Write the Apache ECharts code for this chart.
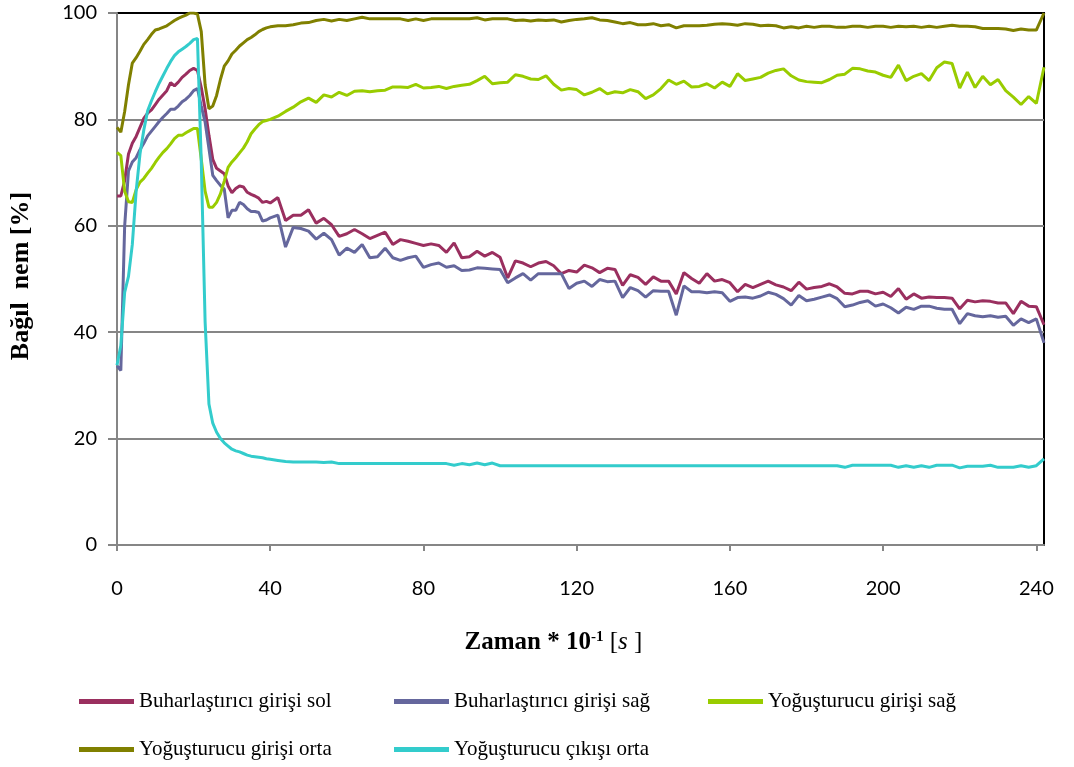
<!DOCTYPE html>
<html>
<head>
<meta charset="utf-8">
<title>Bağıl nem</title>
<script src="https://cdn.jsdelivr.net/npm/echarts@6.0.0/dist/echarts.min.js"></script>
<style>
  html, body { margin: 0; padding: 0; background: #fff; }
  #chart { width: 1074px; height: 767px; }
</style>
</head>
<body>
<div id="chart"></div>
<script>
// zaman * 10^-1 [s]
const xs = [
  0, 1, 2, 3, 4, 5, 6, 7, 8, 9,
  10, 11, 12, 13, 14, 15, 16, 17, 18, 19,
  20, 21, 22, 23, 24, 25, 26, 27, 28, 29,
  30, 31, 32, 33, 34, 35, 36, 37, 38, 39,
  40,
  42, 44, 46, 48, 50, 52, 54, 56, 58, 60,
  62, 64, 66, 68, 70, 72, 74, 76, 78, 80,
  82, 84, 86, 88, 90, 92, 94, 96, 98, 100,
  102, 104, 106, 108, 110, 112, 114, 116, 118, 120,
  122, 124, 126, 128, 130, 132, 134, 136, 138, 140,
  142, 144, 146, 148, 150, 152, 154, 156, 158, 160,
  162, 164, 166, 168, 170, 172, 174, 176, 178, 180,
  182, 184, 186, 188, 190, 192, 194, 196, 198, 200,
  202, 204, 206, 208, 210, 212, 214, 216, 218, 220,
  222, 224, 226, 228, 230, 232, 234, 236, 238, 240,
  242
];
const xTicks = [0, 40, 80, 120, 160, 200, 240];

// Buharlaştırıcı girişi sol
const buharSol = [
  65.6, 65.6, 68.5, 73.5, 75.5, 76.8, 78.5, 80.2, 81.2, 81.8,
  82.8, 83.8, 84.6, 85.4, 86.9, 86.3, 87.0, 87.9, 88.5, 89.2,
  89.6, 89.2, 86.0, 82.0, 77.0, 72.5, 70.8, 70.3, 69.8, 67.5,
  66.2, 67.0, 67.5, 67.3, 66.3, 65.9, 65.6, 65.2, 64.4, 64.6,
  64.3,
  65.3, 61.0, 62.0, 62.0, 63.0, 60.5, 61.4, 60.2, 58.0, 58.5,
  59.3, 58.5, 57.6, 58.2, 58.8, 56.5, 57.4, 57.1, 56.7, 56.3,
  56.6, 56.3, 55.0, 56.8, 54.0, 54.2, 55.2, 54.3, 55.0, 54.1,
  50.2, 53.4, 53.0, 52.3, 53.0, 53.3, 52.5, 51.0, 51.6, 51.3,
  52.6, 52.1, 51.2, 52.0, 51.8, 48.8, 50.8, 50.3, 49.0, 50.4,
  49.6, 49.6, 47.2, 51.2, 50.1, 49.2, 51.0, 49.6, 49.9, 49.3,
  47.6, 49.0, 48.4, 49.0, 49.6, 48.9, 48.5, 47.8, 49.4, 48.1,
  48.4, 48.6, 49.1, 48.5, 47.3, 47.2, 47.7, 47.7, 47.2, 47.5,
  46.7, 48.2, 46.2, 47.2, 46.4, 46.6, 46.5, 46.5, 46.4, 44.4,
  46.0, 45.7, 45.9, 45.8, 45.5, 45.5, 43.5, 45.8, 44.9, 44.8,
  41.4
];

// Buharlaştırıcı girişi sağ
const buharSag = [
  33.7, 32.8, 60.0, 70.3, 72.0, 72.8, 74.3, 75.5, 76.9, 77.8,
  78.7, 79.6, 80.4, 81.1, 81.9, 81.9, 82.5, 83.3, 83.8, 84.5,
  85.4, 85.8, 82.5, 79.5, 74.5, 69.5, 68.5, 67.6, 66.9, 61.5,
  62.9, 62.9, 64.4, 64.0, 63.2, 62.7, 62.7, 62.5, 60.9, 61.1,
  61.5,
  62.0, 56.0, 59.7, 59.5, 59.0, 57.5, 58.6, 57.4, 54.5, 55.8,
  55.0, 56.5, 54.0, 54.2, 55.8, 54.0, 53.5, 54.0, 54.3, 52.2,
  52.7, 53.0, 52.2, 52.5, 51.6, 51.7, 52.1, 52.0, 51.9, 51.8,
  49.3, 50.2, 51.0, 49.8, 51.0, 51.0, 51.0, 51.0, 48.2, 49.2,
  49.6, 48.6, 49.9, 49.5, 49.6, 46.5, 48.4, 47.8, 46.6, 47.8,
  47.7, 47.7, 43.2, 48.7, 47.6, 47.6, 47.4, 47.6, 47.4, 45.8,
  46.5, 46.6, 46.4, 46.8, 47.5, 47.1, 46.3, 45.1, 46.9, 45.9,
  46.2, 46.6, 47.0, 46.3, 44.8, 45.1, 45.6, 45.9, 44.9, 45.3,
  44.6, 43.6, 44.7, 44.3, 44.9, 44.9, 44.5, 44.3, 44.3, 41.6,
  43.5, 43.1, 42.9, 43.1, 42.8, 43.0, 41.3, 42.5, 41.8, 42.5,
  38.0
];

// Yoğuşturucu girişi sağ
const yogGirisSag = [
  73.8, 73.2, 66.5, 64.5, 64.4, 66.8, 68.2, 68.9, 69.9, 70.8,
  71.9, 72.9, 73.8, 74.5, 75.4, 76.4, 77.0, 77.0, 77.5, 77.9,
  78.3, 78.3, 72.5, 66.5, 63.5, 63.5, 64.4, 66.0, 68.4, 71.0,
  72.0, 72.8, 73.7, 74.6, 75.8, 77.3, 78.2, 79.0, 79.6, 79.8,
  80.0,
  80.6, 81.5, 82.3, 83.3, 84.0, 83.2, 84.6, 84.2, 85.1, 84.5,
  85.3, 85.4, 85.2, 85.4, 85.5, 86.1, 86.1, 86.0, 86.6, 85.9,
  86.0, 86.2, 85.8, 86.2, 86.4, 86.6, 87.3, 88.1, 86.7, 86.9,
  87.0, 88.4, 88.1, 87.6, 87.5, 88.2, 86.6, 85.5, 85.8, 85.6,
  84.6, 85.1, 85.8, 84.8, 85.2, 85.0, 85.6, 85.2, 83.9, 84.6,
  85.8, 87.4, 86.6, 87.2, 86.1, 86.2, 86.7, 85.9, 87.0, 86.2,
  88.6, 87.3, 87.6, 87.9, 88.7, 89.2, 89.5, 88.2, 87.4, 87.1,
  87.0, 86.9, 87.5, 88.3, 88.5, 89.6, 89.5, 89.1, 88.9, 88.3,
  87.9, 90.2, 87.3, 88.1, 88.6, 87.3, 89.7, 90.8, 90.5, 85.9,
  88.9, 86.0, 88.1, 86.5, 87.5, 85.4, 84.2, 82.8, 84.3, 83.0,
  89.8
];

// Yoğuşturucu girişi orta
const yogGirisOrta = [
  78.5, 77.6, 81.5, 86.5, 90.6, 91.6, 92.8, 94.1, 95.0, 96.0,
  96.8, 97.0, 97.3, 97.6, 98.1, 98.6, 99.0, 99.3, 99.6, 100,
  100, 99.8, 96.5, 86.5, 82.0, 82.5, 84.5, 87.5, 90.0, 91.0,
  92.3, 93.0, 93.8, 94.4, 95.0, 95.4, 95.9, 96.5, 96.9, 97.2,
  97.4,
  97.6, 97.6, 97.8, 98.1, 98.2, 98.6, 98.8, 98.5, 98.8, 98.6,
  98.9, 99.2, 98.9, 98.9, 98.9, 98.9, 98.9, 98.6, 98.9, 98.6,
  98.9, 98.9, 98.9, 98.9, 98.9, 98.9, 99.1, 98.7, 98.9, 98.9,
  98.9, 98.6, 98.7, 98.5, 98.7, 98.6, 98.7, 98.3, 98.6, 98.8,
  98.9, 99.1, 98.7, 98.6, 98.3, 98.0, 98.2, 97.8, 97.8, 98.0,
  97.6, 97.8, 97.2, 97.6, 97.6, 97.6, 97.7, 97.9, 98.0, 97.9,
  97.7, 98.0, 97.9, 97.6, 97.7, 97.6, 97.2, 97.4, 97.2, 97.5,
  97.3, 97.5, 97.5, 97.3, 97.3, 97.5, 97.5, 97.3, 97.5, 97.5,
  97.3, 97.5, 97.4, 97.5, 97.3, 97.5, 97.3, 97.5, 97.7, 97.5,
  97.5, 97.4, 97.1, 97.1, 97.1, 97.0, 96.7, 97.0, 96.8, 96.8,
  100
];

// Yoğuşturucu çıkışı orta
const yogCikisOrta = [
  33.8, 37.5, 47.5, 50.5, 56.5, 66.5, 73.5, 78.0, 81.6, 83.5,
  85.2, 86.8, 88.2, 89.6, 90.9, 92.0, 92.7, 93.2, 93.7, 94.3,
  95.0, 95.2, 72.0, 42.0, 26.5, 22.9, 21.2, 20.0, 19.2, 18.6,
  18.0, 17.7, 17.5, 17.2, 16.9, 16.7, 16.6, 16.5, 16.4, 16.2,
  16.1,
  15.9, 15.7, 15.6, 15.6, 15.6, 15.6, 15.5, 15.6, 15.3, 15.3,
  15.3, 15.3, 15.3, 15.3, 15.3, 15.3, 15.3, 15.3, 15.3, 15.3,
  15.3, 15.3, 15.3, 15.0, 15.3, 15.1, 15.4, 15.1, 15.4, 14.9,
  14.9, 14.9, 14.9, 14.9, 14.9, 14.9, 14.9, 14.9, 14.9, 14.9,
  14.9, 14.9, 14.9, 14.9, 14.9, 14.9, 14.9, 14.9, 14.9, 14.9,
  14.9, 14.9, 14.9, 14.9, 14.9, 14.9, 14.9, 14.9, 14.9, 14.9,
  14.9, 14.9, 14.9, 14.9, 14.9, 14.9, 14.9, 14.9, 14.9, 14.9,
  14.9, 14.9, 14.9, 14.9, 14.6, 15.0, 15.0, 15.0, 15.0, 15.0,
  15.0, 14.6, 14.9, 14.6, 14.9, 14.6, 15.0, 15.0, 15.0, 14.5,
  14.8, 14.8, 14.8, 15.0, 14.6, 14.6, 14.6, 14.9, 14.6, 14.9,
  16.2
];

const names = [
  "Buharlaştırıcı girişi sol",
  "Buharlaştırıcı girişi sağ",
  "Yoğuşturucu girişi sağ",
  "Yoğuşturucu girişi orta",
  "Yoğuşturucu çıkışı orta"
];
const colors = ["#9a2f5f", "#65679d", "#99cc00", "#808000", "#33cccc"];
const values = [buharSol, buharSag, yogGirisSag, yogGirisOrta, yogCikisOrta];

const serif = "'Liberation Serif', 'Times New Roman', serif";
const sans = "Lato, 'Open Sans', sans-serif";
const grey = "#868686";

// one legend per item, so the columns line up as in the original
const legendPos = [[74, 686], [389, 686], [703, 686], [74, 734], [389, 734]];
const legends = names.map((n, i) => ({
  data: [n],
  left: legendPos[i][0],
  top: legendPos[i][1],
  orient: "horizontal",
  icon: "rect",
  itemWidth: 55,
  itemHeight: 5,
  selectedMode: false,
  textStyle: { fontFamily: serif, fontSize: 21, color: "#000" }
}));

const chart = echarts.init(document.getElementById("chart"));
chart.setOption({
  animation: false,
  backgroundColor: "#fff",
  grid: {
    left: 116,
    right: 30,
    top: 13,
    bottom: 222,
    show: true,
    borderColor: "#000",
    borderWidth: 2
  },
  legend: legends,
  xAxis: {
    type: "value",
    min: 0,
    max: 242,
    name: "{b|Zaman * 10}{sup|-1}{r| [}{i|s}{r| ]}",
    nameLocation: "middle",
    nameGap: 85,
    nameTextStyle: {
      padding: [0, 54, 0, 0],
      rich: {
        b: { fontFamily: serif, fontWeight: "bold", fontSize: 25, color: "#000" },
        r: { fontFamily: serif, fontSize: 25, color: "#000" },
        i: { fontFamily: serif, fontStyle: "italic", fontSize: 25, color: "#000" },
        sup: { fontFamily: serif, fontWeight: "bold", fontSize: 15, color: "#000", verticalAlign: "top" }
      }
    },
    axisLine: { lineStyle: { color: grey, width: 2 } },
    axisTick: {
      show: true,
      length: 6,
      customValues: xTicks,
      lineStyle: { color: grey, width: 2 }
    },
    axisLabel: {
      customValues: xTicks,
      margin: 34,
      fontFamily: sans,
      fontSize: 20,
      color: "#000"
    },
    splitLine: { show: false }
  },
  yAxis: {
    type: "value",
    min: 0,
    max: 100,
    interval: 20,
    name: "Bağıl  nem [%]",
    nameLocation: "middle",
    nameGap: 83,
    nameTextStyle: {
      fontFamily: serif,
      fontWeight: "bold",
      fontSize: 26,
      color: "#000",
      padding: [0, 0, 0, 6]
    },
    axisLine: { show: true, lineStyle: { color: grey, width: 2 } },
    axisTick: { show: true, length: 9, lineStyle: { color: grey, width: 2 } },
    axisLabel: { margin: 20, fontFamily: sans, fontSize: 20, color: "#000" },
    splitLine: {
      lineStyle: {
        color: [grey, grey, grey, grey, grey, "rgba(0,0,0,0)"],
        width: 2
      }
    }
  },
  series: values.map((v, i) => ({
    name: names[i],
    type: "line",
    showSymbol: false,
    symbol: "none",
    color: colors[i],
    lineStyle: { width: 3, color: colors[i] },
    data: xs.map((x, j) => [x, v[j]])
  }))
});
</script>
</body>
</html>
